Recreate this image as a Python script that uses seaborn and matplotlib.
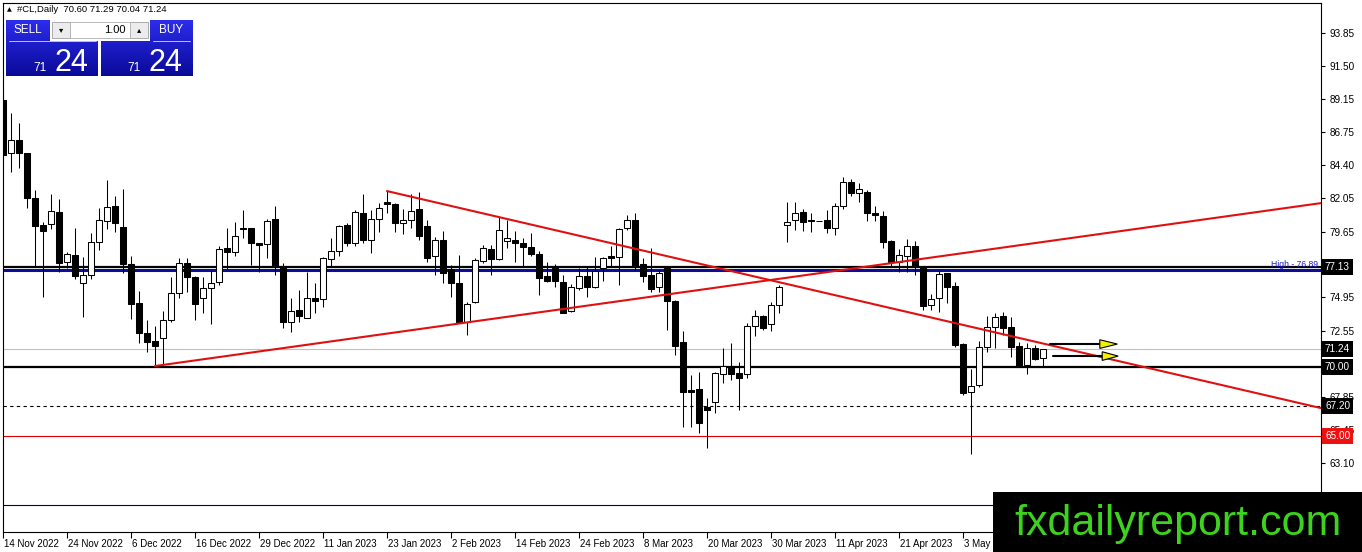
import numpy as np
import pandas as pd
import matplotlib
matplotlib.use("Agg")
import matplotlib.pyplot as plt
import matplotlib.transforms as mtransforms
from matplotlib.colors import LinearSegmentedColormap
from matplotlib.patches import Rectangle, Polygon
import seaborn as sns

# ---------------- data ----------------
opens = [89.06, 85.27, 86.20, 85.27, 82.05, 80.12, 80.19, 81.05, 77.47, 77.98,
         75.97, 76.54, 78.91, 80.41, 81.48, 79.98, 77.33, 74.54, 72.40, 71.83,
         72.04, 73.33, 75.26, 77.40, 76.40, 74.90, 75.61, 76.04, 78.48, 78.19,
         79.91, 79.91, 78.83, 78.76, 80.55, 77.19, 73.18, 74.04, 73.47, 74.90,
         74.83, 77.69, 78.26, 80.12, 78.83, 80.98, 79.05, 80.55, 81.76, 81.62,
         80.26, 80.48, 81.26, 80.05, 77.90, 79.05, 76.97, 75.97, 73.18, 74.61,
         77.55, 78.41, 77.69, 78.98, 79.05, 78.83, 78.55, 78.05, 76.47, 77.05,
         76.04, 73.97, 75.61, 76.47, 75.69, 77.05, 77.90, 77.83, 79.91, 80.48,
         77.33, 76.54, 75.69, 77.05, 74.69, 71.76, 68.32, 68.39, 67.11, 67.46,
         69.47, 70.04, 69.54, 69.47, 72.90, 73.61, 73.04, 74.40, 80.12, 80.48,
         81.05, 80.48, 80.41, 80.48, 79.91, 81.48, 83.20, 82.41, 82.48, 80.98,
         80.76, 78.98, 77.47, 77.90, 78.62, 77.12, 74.40, 74.90, 76.69, 75.76,
         71.61, 68.18, 68.68, 71.40, 72.83, 73.61, 72.83, 71.47, 70.11, 71.33,
         70.60]
highs = [89.77, 88.13, 87.41, 85.27, 82.62, 80.33, 82.34, 81.98, 78.19, 79.91,
         77.83, 79.55, 81.34, 83.34, 82.19, 82.70, 77.90, 75.40, 73.33, 72.90,
         73.97, 76.40, 77.76, 77.76, 76.47, 76.40, 76.83, 78.62, 79.91, 80.33,
         81.19, 79.91, 78.83, 80.55, 81.48, 77.40, 74.90, 75.47, 76.76, 75.97,
         77.83, 79.19, 80.12, 80.26, 81.19, 82.34, 81.19, 81.69, 82.55, 81.69,
         81.26, 82.34, 82.47, 80.48, 79.26, 79.69, 77.26, 77.98, 74.61, 77.76,
         78.69, 78.69, 80.69, 80.48, 79.69, 79.19, 79.55, 78.26, 77.47, 77.33,
         76.54, 75.90, 77.05, 77.12, 77.83, 77.83, 78.62, 79.91, 80.84, 80.98,
         77.76, 78.47, 76.90, 77.19, 74.76, 72.54, 69.39, 69.61, 67.75, 69.61,
         71.33, 71.68, 70.32, 73.11, 74.04, 73.68, 74.61, 75.83, 81.76, 81.76,
         81.26, 80.98, 80.41, 81.19, 81.69, 83.55, 83.41, 83.13, 82.62, 81.48,
         81.12, 79.05, 78.41, 79.12, 78.98, 77.19, 75.18, 76.83, 76.69, 76.04,
         71.68, 69.82, 71.83, 73.61, 73.83, 73.90, 73.54, 71.76, 71.68, 71.54,
         71.29]
lows = [84.90, 83.91, 84.20, 81.34, 77.12, 74.97, 79.83, 76.76, 77.05, 76.26,
        73.54, 76.26, 78.33, 79.83, 79.62, 76.69, 73.40, 71.68, 71.04, 70.04,
        70.04, 73.18, 74.90, 75.33, 73.33, 73.83, 73.04, 75.83, 76.97, 77.90,
        79.19, 77.26, 76.76, 77.76, 76.54, 72.76, 72.47, 73.18, 73.47, 73.83,
        74.26, 77.12, 77.90, 78.62, 78.62, 78.83, 78.12, 79.62, 80.98, 79.62,
        79.48, 79.91, 79.05, 77.47, 76.54, 75.97, 74.97, 73.11, 72.26, 74.54,
        77.40, 76.54, 77.62, 78.48, 77.47, 77.12, 77.90, 75.11, 76.04, 75.69,
        73.83, 73.90, 75.47, 74.97, 75.61, 76.12, 77.12, 75.83, 79.76, 76.90,
        76.04, 75.33, 75.33, 72.62, 70.82, 65.68, 65.68, 65.25, 64.17, 66.68,
        68.82, 69.04, 66.89, 69.18, 72.18, 72.62, 72.54, 73.83, 78.91, 79.76,
        79.69, 79.62, 80.41, 79.55, 79.40, 81.26, 82.19, 81.76, 80.41, 80.41,
        78.48, 77.12, 76.76, 76.76, 76.54, 74.04, 74.04, 73.90, 74.54, 71.40,
        67.96, 63.75, 68.54, 71.04, 71.33, 72.26, 70.68, 69.97, 69.47, 70.47,
        70.04]
closes = [85.13, 86.20, 85.27, 82.05, 80.05, 79.69, 81.12, 77.40, 78.05, 76.47,
          76.54, 78.91, 80.48, 81.41, 80.26, 77.33, 74.47, 72.40, 71.76, 71.47,
          73.33, 75.26, 77.40, 76.40, 74.47, 75.61, 75.97, 78.41, 78.19, 79.33,
          79.83, 78.83, 78.69, 80.41, 77.19, 73.18, 73.97, 73.61, 74.90, 74.69,
          77.76, 78.26, 80.05, 78.83, 81.05, 79.05, 80.55, 81.34, 81.62, 80.26,
          80.48, 81.12, 79.33, 77.76, 79.05, 76.69, 75.97, 73.18, 74.47, 77.62,
          78.48, 77.69, 79.76, 79.19, 78.83, 78.55, 78.05, 76.33, 76.12, 76.12,
          73.83, 75.69, 76.47, 75.69, 76.83, 77.76, 77.76, 79.83, 80.48, 77.12,
          76.47, 75.54, 76.69, 74.69, 71.47, 68.18, 68.18, 65.96, 66.89, 69.54,
          70.04, 69.47, 69.18, 72.90, 73.61, 72.76, 74.40, 75.69, 80.33, 80.98,
          80.33, 80.41, 80.41, 79.91, 81.48, 83.20, 82.41, 82.69, 80.98, 80.84,
          78.91, 77.47, 77.98, 78.62, 77.12, 74.33, 74.83, 76.62, 75.69, 71.54,
          68.11, 68.61, 71.40, 72.83, 73.54, 72.76, 71.40, 69.97, 71.33, 70.54,
          71.24]

date_labels = ["14 Nov 2022", "24 Nov 2022", "6 Dec 2022", "16 Dec 2022", "29 Dec 2022",
               "11 Jan 2023", "23 Jan 2023", "2 Feb 2023", "14 Feb 2023", "24 Feb 2023",
               "8 Mar 2023", "20 Mar 2023", "30 Mar 2023", "11 Apr 2023", "21 Apr 2023",
               "3 May 2023"]
date_every = 8

price_ticks = [93.85, 91.50, 89.15, 86.75, 84.40, 82.05, 79.65, 74.95, 72.55,
               67.85, 65.45, 63.10]

# horizontal levels
level_high = 77.13
level_blue = 76.89
level_bid = 71.24
level_70 = 70.00
level_dash = 67.20
level_red = 65.00
level_low = 60.10

# trend lines (bar, price)
up_bars = [19, 164.75]
up_prices = [70.04, 81.69]
down_bars = [48, 164.75]
down_prices = [82.55, 67.03]

# the two arrows at the right of the last bar
arrow_start = [130.9, 131.3]
arrow_end = [137.1, 137.4]
arrow_tip = [139.3, 139.4]
arrow_price = [71.61, 70.75]

# ---------------- figure ----------------
W_PX, H_PX = 1362, 552
sns.set_theme(style="white")
plt.rcParams["font.family"] = ["Liberation Sans", "DejaVu Sans"]

fig = plt.figure(figsize=(W_PX / 100, H_PX / 100), dpi=100)
fig.patch.set_facecolor("white")

left, right, top, bottom = 3, 1321, 3, 532
ax = fig.add_axes([left / W_PX, 1 - bottom / H_PX,
                   (right - left) / W_PX, (bottom - top) / H_PX])
ax.set_facecolor("white")

df = pd.DataFrame({"open": opens, "high": highs, "low": lows, "close": closes})
df["bar"] = np.arange(len(df))
alcista = df["close"] >= df["open"]

# horizontal levels (behind candles)
ax.axhline(level_high, color="black", lw=1.6, zorder=2)
ax.axhline(level_blue, color="#0c0c94", lw=2.2, zorder=2)
ax.axhline(level_bid, color="#c0c0c0", lw=0.8, zorder=2)
ax.axhline(level_70, color="black", lw=1.6, zorder=2)
ax.axhline(level_dash, color="black", lw=0.8, ls=(0, (3, 3)), zorder=2)
ax.axhline(level_red, color="#e00000", lw=0.8, zorder=2)
ax.axhline(level_low, color="#000060", lw=0.8, zorder=2)

# candles
ax.vlines(df["bar"], df["low"], df["high"], color="black", lw=0.75, zorder=3)
cuerpo_base = np.minimum(df["open"], df["close"])
cuerpo_alto = (df["close"] - df["open"]).abs()
ax.bar(df["bar"], cuerpo_alto, bottom=cuerpo_base, width=0.72,
       color=np.where(alcista, "white", "black"), edgecolor="black",
       linewidth=0.75, zorder=4)

# trend lines
sns.lineplot(x=up_bars, y=up_prices, ax=ax, color="#e01010", lw=1.5, zorder=5)
sns.lineplot(x=down_bars, y=down_prices, ax=ax, color="#e01010", lw=1.5, zorder=5)

# arrows
for x0, x1, xt, p in zip(arrow_start, arrow_end, arrow_tip, arrow_price):
    ax.plot([x0, x1], [p, p], color="black", lw=1.5, zorder=6)
    ax.add_patch(Polygon([[x1, p + 0.31], [x1, p - 0.31], [xt, p]],
                         closed=True, facecolor="#f0f000", edgecolor="black",
                         lw=0.8, zorder=7))

ax.set_xlim(0, (right - left) / 8)
ax.set_ylim(58.17, 96.0)

# x axis
ax.set_xticks(np.arange(len(date_labels)) * date_every)
ax.set_xticklabels(date_labels, ha="left")
ax.tick_params(axis="x", direction="out", length=4, width=0.8, pad=1,
               labelsize=7, colors="black", bottom=True)
off = mtransforms.ScaledTranslation(1 / 100, 0, fig.dpi_scale_trans)
for lab in ax.get_xticklabels():
    lab.set_transform(lab.get_transform() + off)

# y axis on the right
ax.yaxis.tick_right()
ax.set_yticks(price_ticks)
ax.set_yticklabels([f"{v:.2f}" for v in price_ticks])
ax.tick_params(axis="y", direction="out", length=3, width=0.8, pad=3,
               labelsize=7.2, colors="black", right=True, left=False)
ax.set_ylabel("")
ax.set_xlabel("")
for s in ax.spines.values():
    s.set_color("black")
    s.set_linewidth(0.8)
ax.grid(False)

# boxed price labels
trans = mtransforms.blended_transform_factory(ax.transAxes, ax.transData)
for val, fc in [(level_high, "black"), (level_bid, "black"), (level_70, "black"),
                (level_dash, "black"), (level_red, "#ee1111")]:
    ax.text(1.0 + 4 / (right - left), val, f"{val:.2f}", transform=trans,
            ha="left", va="center", fontsize=7.2, color="white", clip_on=False,
            zorder=10, bbox=dict(boxstyle="square,pad=0.3", fc=fc, ec="none"))

ax.text(1.0 - 3 / (right - left), level_blue + 0.12, f"High - {level_blue:.2f}",
        transform=trans, ha="right", va="bottom", fontsize=6.2, color="#2020c0",
        zorder=8)


# ---------------- trade panel top-left ----------------
def fx(x):
    return x / W_PX


def fy(y):
    return 1 - y / H_PX


cmap_azul = LinearSegmentedColormap.from_list("azul", ["#2c2cec", "#0a0a98"])


def bloque_azul(x0, y0, x1, y1):
    bax = fig.add_axes([fx(x0), fy(y1), fx(x1) - fx(x0), fy(y0) - fy(y1)])
    bax.imshow(np.linspace(0, 1, 64).reshape(-1, 1), aspect="auto",
               cmap=cmap_azul, extent=[0, 1, 0, 1])
    bax.axis("off")


bloque_azul(6, 20, 98, 76)
bloque_azul(101, 20, 192, 76)
fig.patches.append(Rectangle((fx(50), fy(41)), fx(150) - fx(50), fy(19) - fy(41),
                             transform=fig.transFigure, facecolor="white",
                             edgecolor="none", zorder=1))
for x0, x1 in [(52, 70), (130, 148)]:
    fig.patches.append(Rectangle((fx(x0), fy(38)), fx(x1) - fx(x0), fy(22) - fy(38),
                                 transform=fig.transFigure, facecolor="#ececec",
                                 edgecolor="#a0a0a0", lw=0.6, zorder=2))
fig.patches.append(Rectangle((fx(70), fy(38)), fx(130) - fx(70), fy(22) - fy(38),
                             transform=fig.transFigure, facecolor="white",
                             edgecolor="#b0b0b0", lw=0.6, zorder=2))
for x0, x1 in [(9, 96), (153, 190)]:
    fig.lines.append(plt.Line2D([fx(x0), fx(x1)], [fy(41.5), fy(41.5)],
                                transform=fig.transFigure, color="#d8d8ff", lw=0.6))

fig.text(fx(28), fy(30), "SELL", color="white", fontsize=8.5, ha="center", va="center")
fig.text(fx(171), fy(30), "BUY", color="white", fontsize=8.5, ha="center", va="center")
fig.text(fx(126), fy(30), "1.00", color="black", fontsize=8, ha="right", va="center")
fig.text(fx(61), fy(30), "▾", color="black", fontsize=6, ha="center", va="center",
         family="DejaVu Sans")
fig.text(fx(139), fy(30), "▴", color="black", fontsize=6, ha="center", va="center",
         family="DejaVu Sans")
fig.text(fx(9), fy(10), "▲", color="black", fontsize=4.5, ha="center", va="center",
         family="DejaVu Sans")
fig.text(fx(17), fy(10), "#CL,Daily  70.60 71.29 70.04 71.24", color="black",
         fontsize=6.8, ha="left", va="center")
for xs, xb in [(47, 54), (141, 148)]:
    fig.text(fx(xs), fy(71), "71", color="white", fontsize=8.5, ha="right", va="baseline")
    fig.text(fx(xb), fy(71), "24", color="white", fontsize=22, ha="left", va="baseline")

# ---------------- watermark ----------------
fig.patches.append(Rectangle((fx(993), 0), 1 - fx(993), fy(492), transform=fig.transFigure,
                             facecolor="black", edgecolor="none", zorder=5))
fig.text(fx(1178), fy(535), "fxdailyreport.com", color="#3cd21e", fontsize=31,
         ha="center", va="baseline", zorder=6)

fig.savefig("out.png", dpi=100)
